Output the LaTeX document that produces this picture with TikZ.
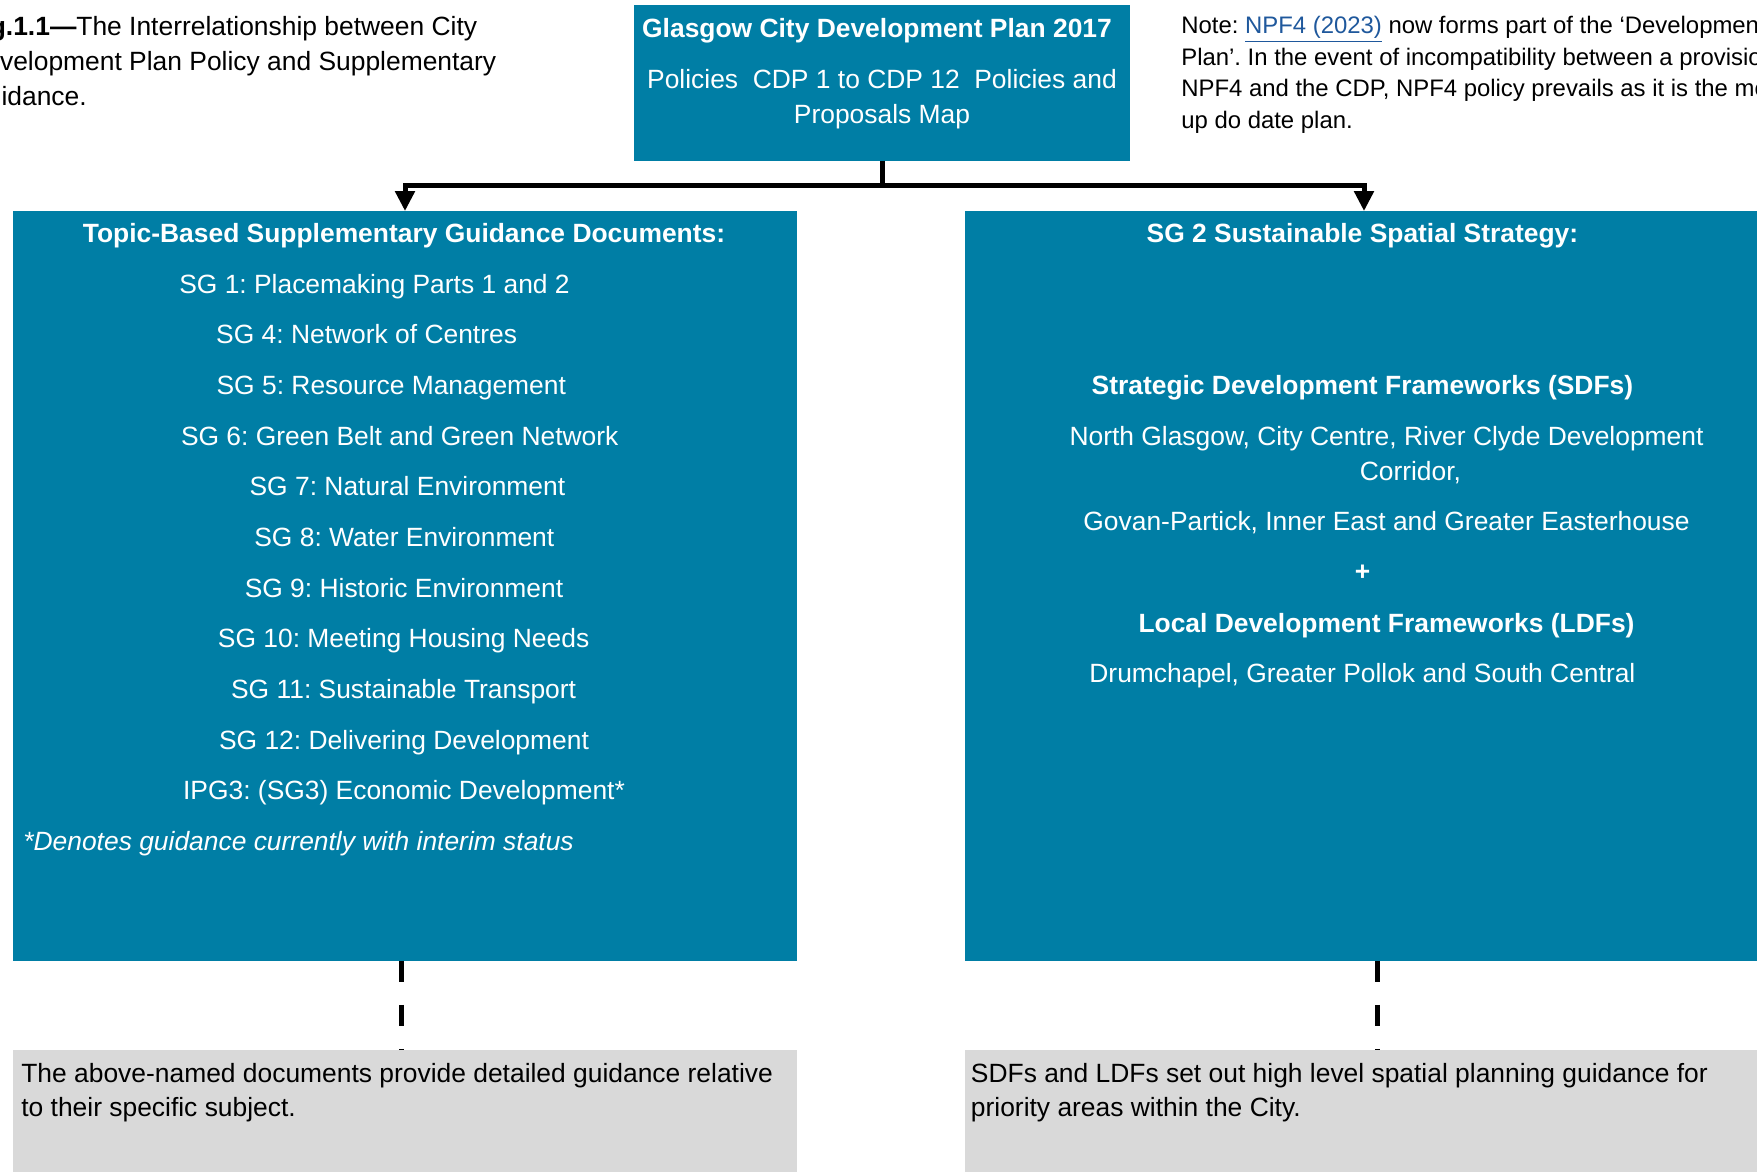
\documentclass[tikz,border=0pt]{standalone}
\usepackage{fontspec}
\setmainfont{Liberation Sans}
\usetikzlibrary{arrows.meta,positioning}
\definecolor{cdpteal}{RGB}{0,126,165}
\definecolor{notegrey}{RGB}{217,217,217}
\definecolor{linkblue}{RGB}{31,88,156}
\newcommand{\bodyfont}{\fontsize{15.03pt}{19.8pt}\selectfont}
\newcommand{\notefont}{\fontsize{13.6pt}{17.9pt}\selectfont}
\frenchspacing

\begin{document}
\begin{tikzpicture}[x=0.02cm,y=-0.02cm,>=Stealth,font=\bodyfont]
\tikzstyle{panel}=[fill=cdpteal,inner sep=0,outer sep=0]
\tikzstyle{greybox}=[fill=notegrey,inner sep=0,outer sep=0,minimum width=15.68cm,minimum height=2.8cm]
\tikzstyle{wt}=[text=white,inner sep=0,anchor=base]
\tikzstyle{bt}=[inner sep=0,anchor=base west,align=left]
\tikzstyle{conn}=[line width=0.1cm,-{Triangle[width=0.38cm,length=0.4cm]}]
\tikzstyle{dashconn}=[line width=0.1cm,dash pattern=on 0.42cm off 0.46cm]
\useasboundingbox (0,0) rectangle (1757,1171);
\clip (0,0) rectangle (1757,1171);
% boxes
\node[panel,minimum width=9.92cm,minimum height=3.12cm] (cdp) at (882,83) {};
\node[panel,minimum width=15.68cm,minimum height=15cm] (topic) at (405,586) {};
\node[panel,minimum width=15.96cm,minimum height=15cm] (spatial) at (1364,586) {};
\node[greybox] (topicnote) at (405,1120) {};
\node[greybox,minimum width=15.96cm] (spatialnote) at (1364,1120) {};
% plan box text (base = last line)
\node[wt] (cdptitle) at (877,37.5) {\textbf{Glasgow City Development Plan 2017}};
\node[wt,align=center] (cdppol) at (882,123) {Policies\ \ CDP 1 to CDP 12\ \ Policies and\\Proposals Map};
% caption and note
\node[bt] (caption) at (-34,105.4) {\textbf{Fig.1.1—}The Interrelationship between City\\Development Plan Policy and Supplementary\\Guidance.};
\node[bt,font=\notefont] (npf) at (1181,128.2) {Note: \textcolor{linkblue}{\underline{NPF4 (2023)}} now forms part of the ‘Development\\Plan’. In the event of incompatibility between a provision of\\NPF4 and the CDP, NPF4 policy prevails as it is the more\\up do date plan.};
% connectors
\draw[conn] (cdp.south) -- ++(0,25) -| (topic.north);
\draw[conn] (cdp.south) -- ++(0,25) -| (spatial.north);
\draw[dashconn] ([xshift=-0.08cm]topic.south) -- ([xshift=-0.08cm]topicnote.north);
\draw[dashconn] ([xshift=0.26cm]spatial.south) -- ([xshift=0.26cm]spatialnote.north);
% topic-based list
\node[wt] (topichead) at (404,242.5) {\textbf{Topic-Based Supplementary Guidance Documents:}};
\foreach \x/\y/\t [count=\i] in {374.5/293/{SG 1: Placemaking Parts 1 and 2},366.6/343.5/{SG 4: Network of Centres},391.3/394.5/{SG 5: Resource Management},399.7/445/{SG 6: Green Belt and Green Network},407.4/495.5/{SG 7: Natural Environment},404.3/546.5/{SG 8: Water Environment},404/597/{SG 9: Historic Environment},403.6/647.5/{SG 10: Meeting Housing Needs},403.6/698.5/{SG 11: Sustainable Transport},404/749/{SG 12: Delivering Development},404/799.5/{IPG3: (SG3) Economic Development*}}
  \node[wt] (sg\i) at (\x,\y) {\t};
\node[wt,anchor=base west] (interim) at (23,850) {\itshape *Denotes guidance currently with interim status};
% spatial strategy list
\node[wt] (spatialhead) at (1362.4,242.5) {\textbf{SG 2 Sustainable Spatial Strategy:}};
\foreach \x/\y/\t [count=\i] in {1362.4/394.5/{\textbf{Strategic Development Frameworks (SDFs)}},1386.5/445.5/{North Glasgow, City Centre, River Clyde Development},1410.4/480/{Corridor,},1386.5/530.5/{Govan-Partick, Inner East and Greater Easterhouse},1362.6/580.5/{\textbf{+}},1386.5/632.5/{\textbf{Local Development Frameworks (LDFs)}},1362.4/682.5/{Drumchapel, Greater Pollok and South Central}}
  \node[wt] (sf\i) at (\x,\y) {\t};
% grey notes (base = last line)
\node[bt] (topictext) at (21,1116.8) {The above-named documents provide detailed guidance relative\\to their specific subject.};
\node[bt] (spatialtext) at (970.6,1116.8) {SDFs and LDFs set out high level spatial planning guidance for\\priority areas within the City.};
\end{tikzpicture}
\end{document}
